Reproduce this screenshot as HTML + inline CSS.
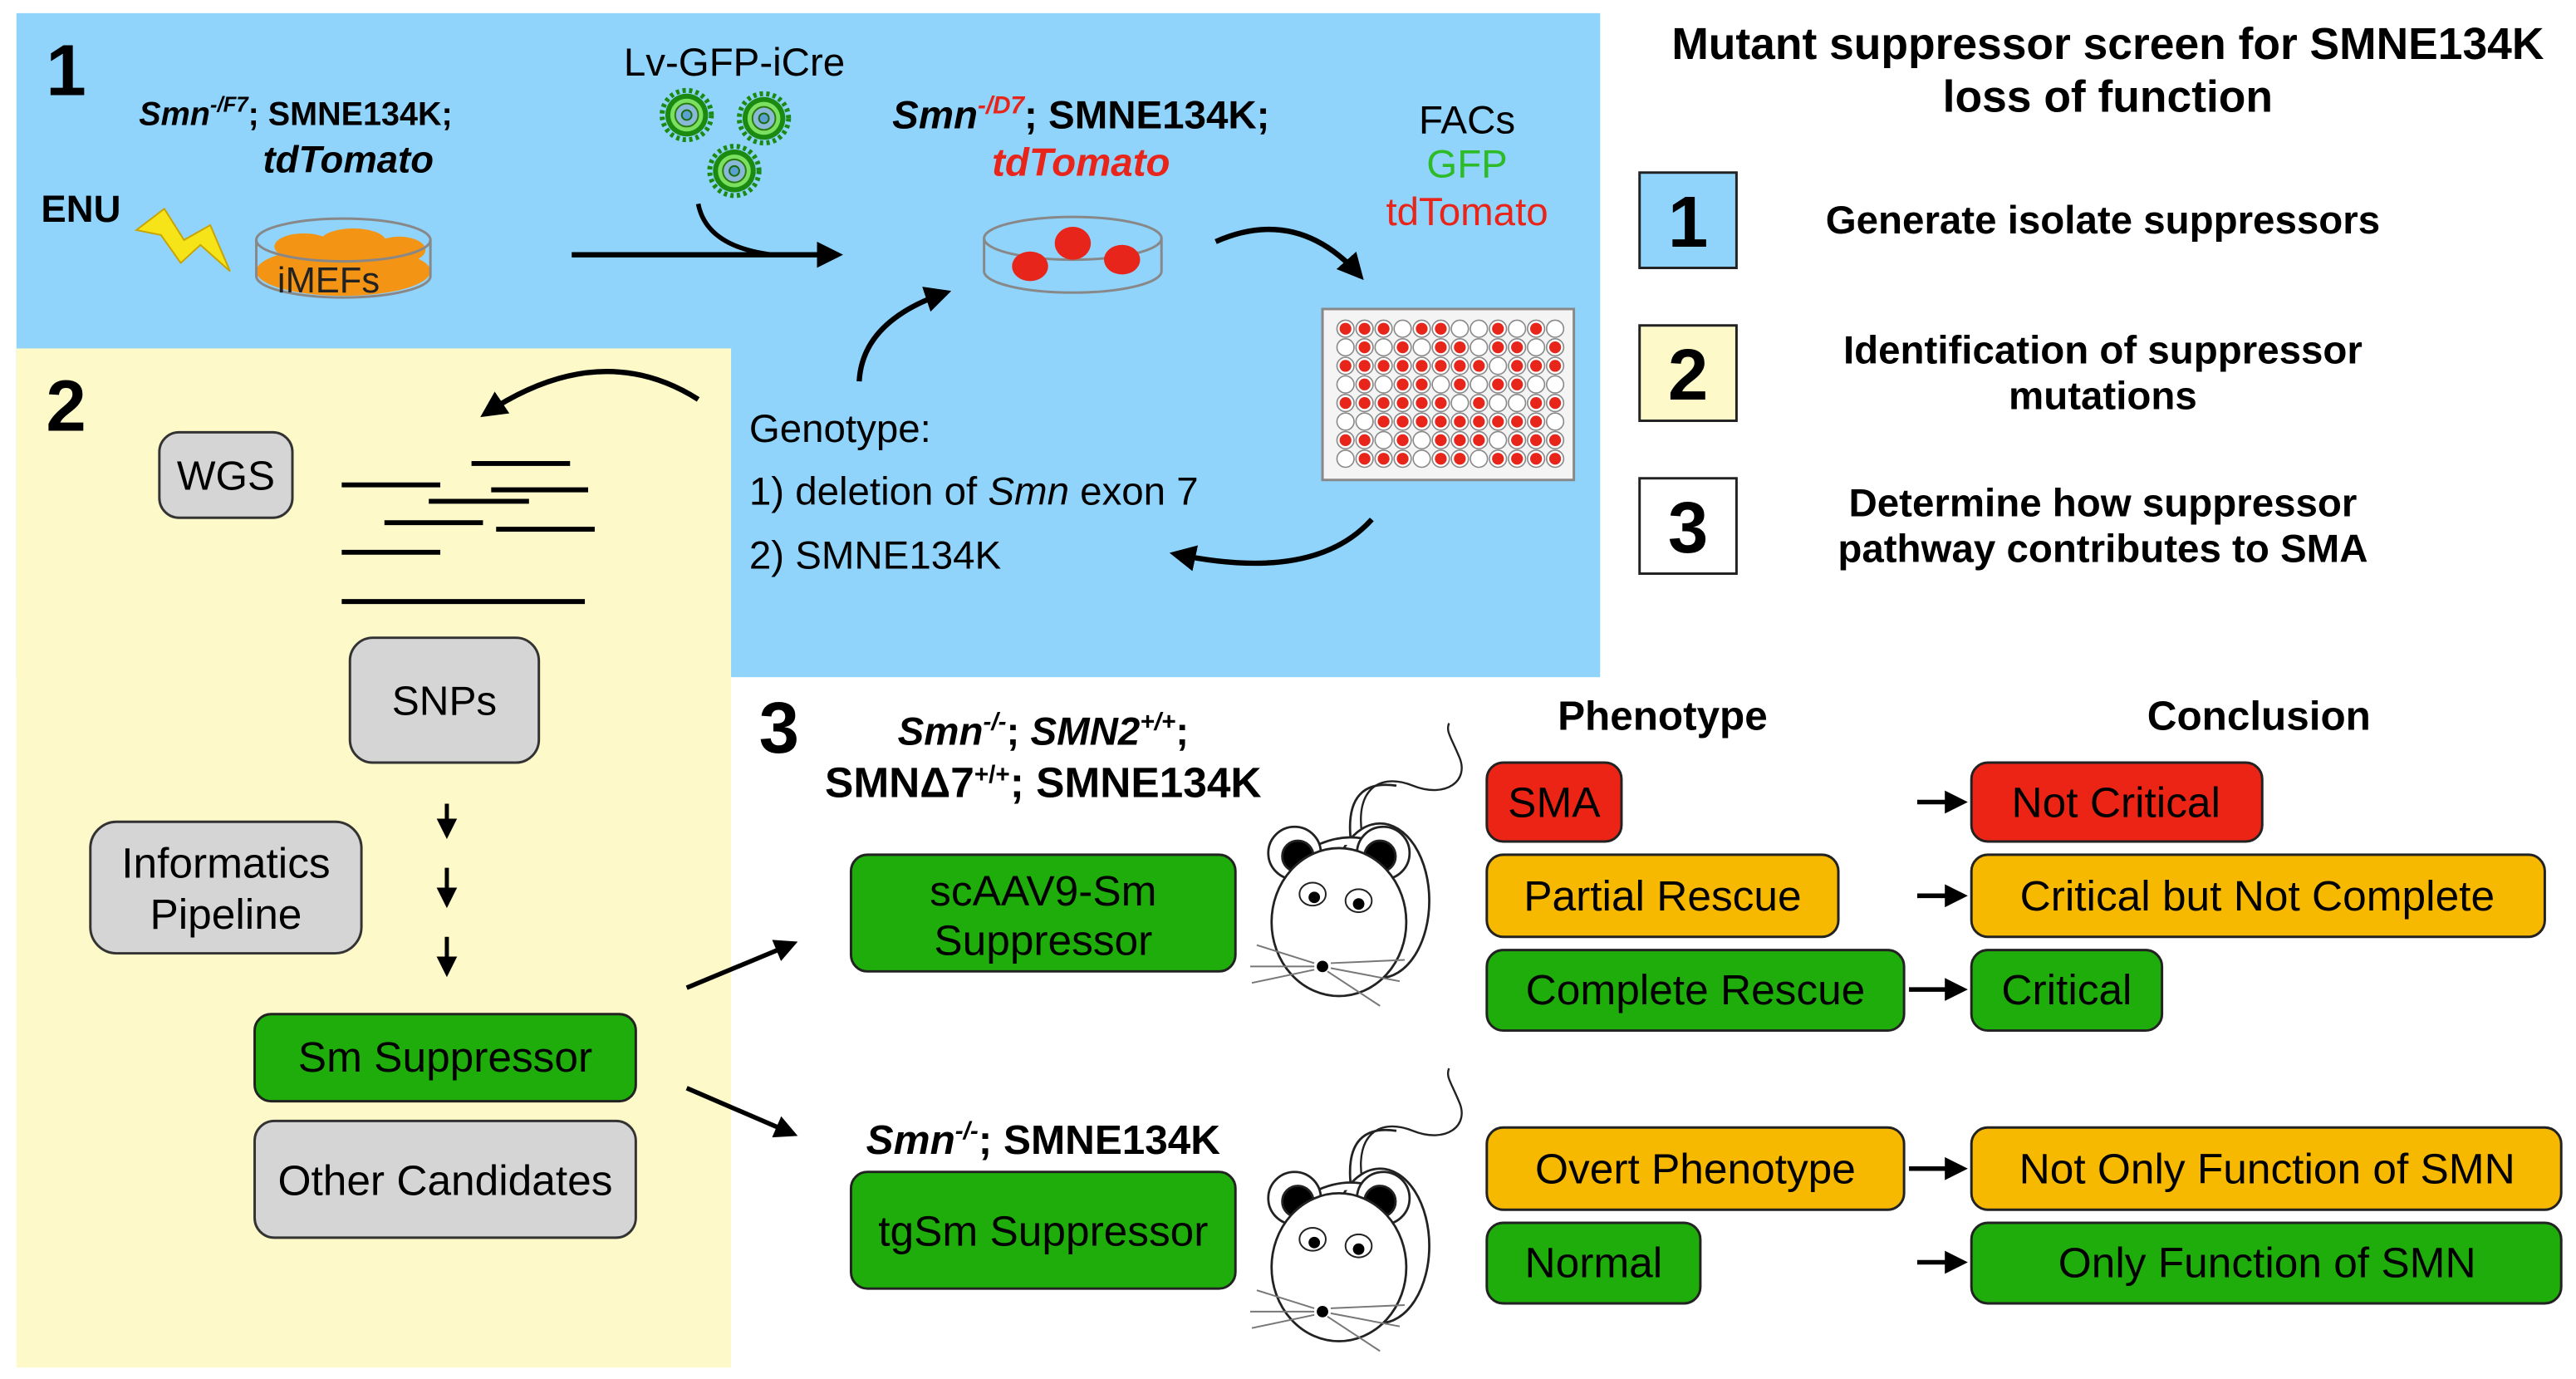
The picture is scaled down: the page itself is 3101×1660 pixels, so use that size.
<!DOCTYPE html>
<html><head><meta charset="utf-8"><style>
html,body{margin:0;padding:0;background:#fff;}
svg{display:block;}
text{font-family:"Liberation Sans",Arial,sans-serif;}
</style></head><body>
<svg width="3101" height="1660" viewBox="0 0 1568 839" preserveAspectRatio="none" xmlns="http://www.w3.org/2000/svg">
<defs>
<marker id="ah" viewBox="0 0 10 10" refX="8" refY="5" markerWidth="5" markerHeight="5" orient="auto"><path d="M0,0 L10,5 L0,10 z" fill="#000"/></marker>
<g id="virus">
<circle r="13" fill="#1a8a10"/>
<circle r="15" fill="none" stroke="#1a8a10" stroke-width="3" stroke-dasharray="2 2"/>
<circle r="10" fill="#7be060"/>
<circle r="7" fill="#8ab8d8" stroke="#2a7a10" stroke-width="1"/>
<circle r="3" fill="#5aa0d0" stroke="#1a6a10" stroke-width="1"/>
</g>
<g id="mouse" fill="none" stroke="#222" stroke-width="1.4">
<path d="M829,507 C825,480 840,470 860,478 C880,486 895,475 888,460 C883,448 880,445 882,440" stroke-width="1.2"/>
<path d="M822,509 C820,485 830,475 850,478"/>
<ellipse cx="840" cy="548" rx="30" ry="47" fill="#fff"/>
<path d="M800,515 Q820,505 840,513" fill="#fff"/>
<circle cx="788" cy="519" r="16" fill="#fff"/>
<circle cx="790" cy="521" r="9.5" fill="#000"/>
<circle cx="842" cy="519" r="16" fill="#fff"/>
<circle cx="840" cy="521" r="9.5" fill="#000"/>
<ellipse cx="815" cy="561" rx="41" ry="45" fill="#fff"/>
<ellipse cx="799" cy="544" rx="8" ry="7" fill="#fff" stroke-width="1"/>
<circle cx="800" cy="546" r="3.5" fill="#000" stroke="none"/>
<ellipse cx="827" cy="548" rx="8" ry="7" fill="#fff" stroke-width="1"/>
<circle cx="827" cy="550" r="3.5" fill="#000" stroke="none"/>
<circle cx="805" cy="588" r="3.5" fill="#000" stroke="none"/>
<g stroke="#777" stroke-width="1">
<line x1="800" y1="586" x2="765" y2="575"/><line x1="800" y1="588" x2="761" y2="588"/><line x1="800" y1="590" x2="762" y2="598"/>
<line x1="810" y1="586" x2="855" y2="584"/><line x1="810" y1="589" x2="852" y2="597"/><line x1="808" y1="591" x2="840" y2="612"/>
</g>
</g>
</defs>

<rect x="10" y="8" width="964" height="404" fill="#90d3fb"/>
<rect x="10" y="212" width="435" height="620" fill="#fdf9c8"/>

<!-- Panel 1 -->
<text x="28" y="58" font-size="44" font-weight="bold">1</text>
<text x="180" y="76" font-size="20" font-weight="bold" text-anchor="middle"><tspan font-style="italic">Smn</tspan><tspan font-style="italic" font-size="13" dy="-8">-/F7</tspan><tspan dy="8">; SMNE134K;</tspan></text>
<text x="212" y="105" font-size="23" font-weight="bold" font-style="italic" text-anchor="middle">tdTomato</text>
<text x="25" y="135" font-size="23" font-weight="bold">ENU</text>
<path d="M83,140 L100,127 L112,146 L128,137 L140,165 L122,149 L110,160 L98,143 Z" fill="#f6e318" stroke="#c9a400" stroke-width="1"/>
<ellipse cx="209" cy="165" rx="53" ry="15" fill="#f39414"/>
<ellipse cx="185" cy="150" rx="18" ry="8" fill="#f39414"/><ellipse cx="215" cy="147" rx="20" ry="8" fill="#f39414"/><ellipse cx="243" cy="152" rx="16" ry="8" fill="#f39414"/>
<ellipse cx="209" cy="146" rx="53" ry="13" fill="none" stroke="#888" stroke-width="1.5"/>
<path d="M156,146 L156,168 A53,13 0 0 0 262,168 L262,146" fill="none" stroke="#888" stroke-width="1.5"/>
<text x="200" y="178" font-size="22" text-anchor="middle" fill="#222">iMEFs</text>
<text x="447" y="46" font-size="24" text-anchor="middle">Lv-GFP-iCre</text>
<use href="#virus" x="418" y="70"/><use href="#virus" x="465" y="72"/><use href="#virus" x="447" y="104"/>
<line x1="348" y1="155" x2="510" y2="155" stroke="#000" stroke-width="3.2" marker-end="url(#ah)"/>
<path d="M425,124 Q430,150 470,155" fill="none" stroke="#000" stroke-width="2.8"/>
<text x="658" y="78" font-size="24" font-weight="bold" text-anchor="middle"><tspan font-style="italic">Smn</tspan><tspan font-style="italic" font-size="15" dy="-9" fill="#e8251a">-/D7</tspan><tspan dy="9">; SMNE134K;</tspan></text>
<text x="658" y="107" font-size="24" font-weight="bold" font-style="italic" text-anchor="middle" fill="#e8251a">tdTomato</text>
<ellipse cx="653" cy="145" rx="54" ry="13" fill="none" stroke="#888" stroke-width="1.5"/>
<path d="M599,145 L599,165 A54,13 0 0 0 707,165 L707,145" fill="none" stroke="#888" stroke-width="1.5"/>
<ellipse cx="653" cy="148" rx="11" ry="10" fill="#e8251a"/><ellipse cx="627" cy="162" rx="11" ry="9" fill="#e8251a"/><ellipse cx="683" cy="158" rx="11" ry="9" fill="#e8251a"/>
<path d="M740,147 Q790,125 828,168" fill="none" stroke="#000" stroke-width="3.2" marker-end="url(#ah)"/>
<text x="893" y="81" font-size="24" text-anchor="middle">FACs</text>
<text x="893" y="108" font-size="24" text-anchor="middle" fill="#2dbb28">GFP</text>
<text x="893" y="137" font-size="24" text-anchor="middle" fill="#e8251a">tdTomato</text>
<rect x="805" y="188" width="153" height="104" fill="#f4f4f4" stroke="#888" stroke-width="1.5"/>
<path d="M835,316 Q800,355 715,337" fill="none" stroke="#000" stroke-width="3.2" marker-end="url(#ah)"/>
<path d="M523,232 Q525,195 576,178" fill="none" stroke="#000" stroke-width="3.2" marker-end="url(#ah)"/>
<text x="456" y="269" font-size="24">Genotype:</text>
<text x="456" y="307" font-size="24">1) deletion of <tspan font-style="italic">Smn</tspan> exon 7</text>
<text x="456" y="346" font-size="24">2) SMNE134K</text>

<!-- Panel 2 -->
<text x="28" y="262" font-size="44" font-weight="bold">2</text>
<path d="M425,243 Q365,205 295,252" fill="none" stroke="#000" stroke-width="3.2" marker-end="url(#ah)"/>
<rect x="97" y="263" width="81" height="52" rx="12" fill="#d5d5d5" stroke="#333" stroke-width="1.5"/>
<text x="137.5" y="298" font-size="25" text-anchor="middle">WGS</text>
<g stroke="#000" stroke-width="3">
<line x1="287" y1="282" x2="347" y2="282"/>
<line x1="208" y1="295" x2="268" y2="295"/><line x1="299" y1="298" x2="358" y2="298"/>
<line x1="261" y1="305" x2="322" y2="305"/>
<line x1="234" y1="318" x2="294" y2="318"/><line x1="302" y1="322" x2="362" y2="322"/>
<line x1="208" y1="336" x2="268" y2="336"/>
<line x1="208" y1="366" x2="356" y2="366"/>
</g>
<rect x="213" y="388" width="115" height="76" rx="14" fill="#d5d5d5" stroke="#333" stroke-width="1.5"/>
<text x="270.5" y="435" font-size="25" text-anchor="middle">SNPs</text>
<g stroke="#000" stroke-width="2.5">
<line x1="272" y1="489" x2="272" y2="508" marker-end="url(#ah)"/>
<line x1="272" y1="528" x2="272" y2="550" marker-end="url(#ah)"/>
<line x1="272" y1="570" x2="272" y2="592" marker-end="url(#ah)"/>
</g>
<rect x="55" y="500" width="165" height="80" rx="16" fill="#d5d5d5" stroke="#333" stroke-width="1.5"/>
<text x="137.5" y="534" font-size="26" text-anchor="middle">Informatics</text>
<text x="137.5" y="565" font-size="26" text-anchor="middle">Pipeline</text>
<rect x="155" y="617" width="232" height="53" rx="10" fill="#1ead0a" stroke="#222" stroke-width="1.5"/>
<text x="271" y="652" font-size="26" text-anchor="middle">Sm Suppressor</text>
<rect x="155" y="682" width="232" height="71" rx="12" fill="#d5d5d5" stroke="#333" stroke-width="1.5"/>
<text x="271" y="727" font-size="26" text-anchor="middle">Other Candidates</text>
<line x1="418" y1="601" x2="483" y2="574" stroke="#000" stroke-width="2.8" marker-end="url(#ah)"/>
<line x1="418" y1="662" x2="483" y2="690" stroke="#000" stroke-width="2.8" marker-end="url(#ah)"/>

<!-- Panel 3 -->
<text x="462" y="458" font-size="44" font-weight="bold">3</text>
<text x="635" y="453" font-size="24" font-weight="bold" text-anchor="middle"><tspan font-style="italic">Smn</tspan><tspan font-style="italic" font-size="15" dy="-9">-/-</tspan><tspan dy="9">; </tspan><tspan font-style="italic">SMN2</tspan><tspan font-style="italic" font-size="15" dy="-9">+/+</tspan><tspan dy="9">;</tspan></text>
<text x="635" y="485" font-size="26" font-weight="bold" text-anchor="middle">SMNΔ7<tspan font-size="15" dy="-9">+/+</tspan><tspan dy="9">; SMNE134K</tspan></text>
<rect x="518" y="520" width="234" height="71" rx="10" fill="#1ead0a" stroke="#222" stroke-width="1.5"/>
<text x="635" y="551" font-size="26" text-anchor="middle">scAAV9-Sm</text>
<text x="635" y="581" font-size="26" text-anchor="middle">Suppressor</text>
<use href="#mouse"/>
<text x="635" y="702" font-size="25" font-weight="bold" text-anchor="middle"><tspan font-style="italic">Smn</tspan><tspan font-style="italic" font-size="15" dy="-9">-/-</tspan><tspan dy="9">; SMNE134K</tspan></text>
<rect x="518" y="713" width="234" height="71" rx="10" fill="#1ead0a" stroke="#222" stroke-width="1.5"/>
<text x="635" y="758" font-size="26" text-anchor="middle">tgSm Suppressor</text>
<use href="#mouse" y="210"/>

<text x="1012" y="444" font-size="25" font-weight="bold" text-anchor="middle">Phenotype</text>
<text x="1375" y="444" font-size="25" font-weight="bold" text-anchor="middle">Conclusion</text>
<g stroke="#222" stroke-width="1.5">
<rect x="905" y="464" width="82" height="48" rx="10" fill="#ec2415"/>
<rect x="1200" y="464" width="177" height="48" rx="10" fill="#ec2415"/>
<rect x="905" y="520" width="214" height="50" rx="10" fill="#f7b800"/>
<rect x="1200" y="520" width="349" height="50" rx="10" fill="#f7b800"/>
<rect x="905" y="578" width="254" height="49" rx="10" fill="#1ead0a"/>
<rect x="1200" y="578" width="116" height="49" rx="10" fill="#1ead0a"/>
<rect x="905" y="686" width="254" height="50" rx="10" fill="#f7b800"/>
<rect x="1200" y="686" width="359" height="50" rx="10" fill="#f7b800"/>
<rect x="905" y="744" width="130" height="49" rx="10" fill="#1ead0a"/>
<rect x="1200" y="744" width="359" height="49" rx="10" fill="#1ead0a"/>
</g>
<g font-size="26">
<text x="946" y="497" text-anchor="middle">SMA</text>
<text x="1288" y="497" text-anchor="middle">Not Critical</text>
<text x="1012" y="554" text-anchor="middle">Partial Rescue</text>
<text x="1374" y="554" text-anchor="middle">Critical but Not Complete</text>
<text x="1032" y="611" text-anchor="middle">Complete Rescue</text>
<text x="1258" y="611" text-anchor="middle">Critical</text>
<text x="1032" y="720" text-anchor="middle">Overt Phenotype</text>
<text x="1380" y="720" text-anchor="middle">Not Only Function of SMN</text>
<text x="970" y="777" text-anchor="middle">Normal</text>
<text x="1380" y="777" text-anchor="middle">Only Function of SMN</text>
</g>
<g stroke="#000" stroke-width="2.8">
<line x1="1167" y1="488" x2="1195" y2="488" marker-end="url(#ah)"/>
<line x1="1167" y1="545" x2="1195" y2="545" marker-end="url(#ah)"/>
<line x1="1162" y1="602" x2="1195" y2="602" marker-end="url(#ah)"/>
<line x1="1162" y1="711" x2="1195" y2="711" marker-end="url(#ah)"/>
<line x1="1167" y1="768" x2="1195" y2="768" marker-end="url(#ah)"/>
</g>

<!-- Legend -->
<text x="1283" y="36" font-size="27" font-weight="bold" text-anchor="middle">Mutant suppressor screen for SMNE134K</text>
<text x="1283" y="68" font-size="27" font-weight="bold" text-anchor="middle">loss of function</text>
<rect x="998" y="105" width="59" height="58" fill="#90d3fb" stroke="#222" stroke-width="1.5"/>
<text x="1027.5" y="150" font-size="44" font-weight="bold" text-anchor="middle">1</text>
<rect x="998" y="198" width="59" height="58" fill="#fdf9c8" stroke="#222" stroke-width="1.5"/>
<text x="1027.5" y="243" font-size="44" font-weight="bold" text-anchor="middle">2</text>
<rect x="998" y="291" width="59" height="58" fill="#fff" stroke="#222" stroke-width="1.5"/>
<text x="1027.5" y="336" font-size="44" font-weight="bold" text-anchor="middle">3</text>
<g font-size="24" font-weight="bold" text-anchor="middle">
<text x="1280" y="142">Generate isolate suppressors</text>
<text x="1280" y="221">Identification of suppressor</text>
<text x="1280" y="249">mutations</text>
<text x="1280" y="314">Determine how suppressor</text>
<text x="1280" y="342">pathway contributes to SMA</text>
</g>

<!-- plate wells -->
<g stroke="#888" stroke-width="0.8" fill="#fff">
<circle cx="819" cy="200" r="5.2"/><circle cx="830.6" cy="200" r="5.2"/><circle cx="842.2" cy="200" r="5.2"/><circle cx="853.8" cy="200" r="5.2"/><circle cx="865.4" cy="200" r="5.2"/><circle cx="877" cy="200" r="5.2"/><circle cx="888.6" cy="200" r="5.2"/><circle cx="900.2" cy="200" r="5.2"/><circle cx="911.8" cy="200" r="5.2"/><circle cx="923.4" cy="200" r="5.2"/><circle cx="935" cy="200" r="5.2"/><circle cx="946.6" cy="200" r="5.2"/>
<circle cx="819" cy="211.3" r="5.2"/><circle cx="830.6" cy="211.3" r="5.2"/><circle cx="842.2" cy="211.3" r="5.2"/><circle cx="853.8" cy="211.3" r="5.2"/><circle cx="865.4" cy="211.3" r="5.2"/><circle cx="877" cy="211.3" r="5.2"/><circle cx="888.6" cy="211.3" r="5.2"/><circle cx="900.2" cy="211.3" r="5.2"/><circle cx="911.8" cy="211.3" r="5.2"/><circle cx="923.4" cy="211.3" r="5.2"/><circle cx="935" cy="211.3" r="5.2"/><circle cx="946.6" cy="211.3" r="5.2"/>
<circle cx="819" cy="222.6" r="5.2"/><circle cx="830.6" cy="222.6" r="5.2"/><circle cx="842.2" cy="222.6" r="5.2"/><circle cx="853.8" cy="222.6" r="5.2"/><circle cx="865.4" cy="222.6" r="5.2"/><circle cx="877" cy="222.6" r="5.2"/><circle cx="888.6" cy="222.6" r="5.2"/><circle cx="900.2" cy="222.6" r="5.2"/><circle cx="911.8" cy="222.6" r="5.2"/><circle cx="923.4" cy="222.6" r="5.2"/><circle cx="935" cy="222.6" r="5.2"/><circle cx="946.6" cy="222.6" r="5.2"/>
<circle cx="819" cy="233.9" r="5.2"/><circle cx="830.6" cy="233.9" r="5.2"/><circle cx="842.2" cy="233.9" r="5.2"/><circle cx="853.8" cy="233.9" r="5.2"/><circle cx="865.4" cy="233.9" r="5.2"/><circle cx="877" cy="233.9" r="5.2"/><circle cx="888.6" cy="233.9" r="5.2"/><circle cx="900.2" cy="233.9" r="5.2"/><circle cx="911.8" cy="233.9" r="5.2"/><circle cx="923.4" cy="233.9" r="5.2"/><circle cx="935" cy="233.9" r="5.2"/><circle cx="946.6" cy="233.9" r="5.2"/>
<circle cx="819" cy="245.2" r="5.2"/><circle cx="830.6" cy="245.2" r="5.2"/><circle cx="842.2" cy="245.2" r="5.2"/><circle cx="853.8" cy="245.2" r="5.2"/><circle cx="865.4" cy="245.2" r="5.2"/><circle cx="877" cy="245.2" r="5.2"/><circle cx="888.6" cy="245.2" r="5.2"/><circle cx="900.2" cy="245.2" r="5.2"/><circle cx="911.8" cy="245.2" r="5.2"/><circle cx="923.4" cy="245.2" r="5.2"/><circle cx="935" cy="245.2" r="5.2"/><circle cx="946.6" cy="245.2" r="5.2"/>
<circle cx="819" cy="256.5" r="5.2"/><circle cx="830.6" cy="256.5" r="5.2"/><circle cx="842.2" cy="256.5" r="5.2"/><circle cx="853.8" cy="256.5" r="5.2"/><circle cx="865.4" cy="256.5" r="5.2"/><circle cx="877" cy="256.5" r="5.2"/><circle cx="888.6" cy="256.5" r="5.2"/><circle cx="900.2" cy="256.5" r="5.2"/><circle cx="911.8" cy="256.5" r="5.2"/><circle cx="923.4" cy="256.5" r="5.2"/><circle cx="935" cy="256.5" r="5.2"/><circle cx="946.6" cy="256.5" r="5.2"/>
<circle cx="819" cy="267.8" r="5.2"/><circle cx="830.6" cy="267.8" r="5.2"/><circle cx="842.2" cy="267.8" r="5.2"/><circle cx="853.8" cy="267.8" r="5.2"/><circle cx="865.4" cy="267.8" r="5.2"/><circle cx="877" cy="267.8" r="5.2"/><circle cx="888.6" cy="267.8" r="5.2"/><circle cx="900.2" cy="267.8" r="5.2"/><circle cx="911.8" cy="267.8" r="5.2"/><circle cx="923.4" cy="267.8" r="5.2"/><circle cx="935" cy="267.8" r="5.2"/><circle cx="946.6" cy="267.8" r="5.2"/>
<circle cx="819" cy="279.1" r="5.2"/><circle cx="830.6" cy="279.1" r="5.2"/><circle cx="842.2" cy="279.1" r="5.2"/><circle cx="853.8" cy="279.1" r="5.2"/><circle cx="865.4" cy="279.1" r="5.2"/><circle cx="877" cy="279.1" r="5.2"/><circle cx="888.6" cy="279.1" r="5.2"/><circle cx="900.2" cy="279.1" r="5.2"/><circle cx="911.8" cy="279.1" r="5.2"/><circle cx="923.4" cy="279.1" r="5.2"/><circle cx="935" cy="279.1" r="5.2"/><circle cx="946.6" cy="279.1" r="5.2"/>
</g>
<g fill="#e8251a">
<circle cx="819" cy="200" r="3.6"/><circle cx="830.6" cy="200" r="3.6"/><circle cx="842.2" cy="200" r="3.6"/><circle cx="865.4" cy="200" r="3.6"/><circle cx="877" cy="200" r="3.6"/><circle cx="911.8" cy="200" r="3.6"/><circle cx="935" cy="200" r="3.6"/>
<circle cx="830.6" cy="211.3" r="3.6"/><circle cx="853.8" cy="211.3" r="3.6"/><circle cx="877" cy="211.3" r="3.6"/><circle cx="888.6" cy="211.3" r="3.6"/><circle cx="911.8" cy="211.3" r="3.6"/><circle cx="923.4" cy="211.3" r="3.6"/><circle cx="946.6" cy="211.3" r="3.6"/>
<circle cx="819" cy="222.6" r="3.6"/><circle cx="830.6" cy="222.6" r="3.6"/><circle cx="842.2" cy="222.6" r="3.6"/><circle cx="853.8" cy="222.6" r="3.6"/><circle cx="865.4" cy="222.6" r="3.6"/><circle cx="877" cy="222.6" r="3.6"/><circle cx="888.6" cy="222.6" r="3.6"/><circle cx="900.2" cy="222.6" r="3.6"/><circle cx="923.4" cy="222.6" r="3.6"/><circle cx="935" cy="222.6" r="3.6"/><circle cx="946.6" cy="222.6" r="3.6"/>
<circle cx="830.6" cy="233.9" r="3.6"/><circle cx="853.8" cy="233.9" r="3.6"/><circle cx="865.4" cy="233.9" r="3.6"/><circle cx="888.6" cy="233.9" r="3.6"/><circle cx="911.8" cy="233.9" r="3.6"/><circle cx="923.4" cy="233.9" r="3.6"/>
<circle cx="819" cy="245.2" r="3.6"/><circle cx="830.6" cy="245.2" r="3.6"/><circle cx="842.2" cy="245.2" r="3.6"/><circle cx="853.8" cy="245.2" r="3.6"/><circle cx="865.4" cy="245.2" r="3.6"/><circle cx="877" cy="245.2" r="3.6"/><circle cx="900.2" cy="245.2" r="3.6"/><circle cx="935" cy="245.2" r="3.6"/><circle cx="946.6" cy="245.2" r="3.6"/>
<circle cx="842.2" cy="256.5" r="3.6"/><circle cx="853.8" cy="256.5" r="3.6"/><circle cx="865.4" cy="256.5" r="3.6"/><circle cx="877" cy="256.5" r="3.6"/><circle cx="888.6" cy="256.5" r="3.6"/><circle cx="900.2" cy="256.5" r="3.6"/><circle cx="911.8" cy="256.5" r="3.6"/><circle cx="923.4" cy="256.5" r="3.6"/><circle cx="935" cy="256.5" r="3.6"/>
<circle cx="819" cy="267.8" r="3.6"/><circle cx="830.6" cy="267.8" r="3.6"/><circle cx="853.8" cy="267.8" r="3.6"/><circle cx="877" cy="267.8" r="3.6"/><circle cx="888.6" cy="267.8" r="3.6"/><circle cx="900.2" cy="267.8" r="3.6"/><circle cx="923.4" cy="267.8" r="3.6"/><circle cx="935" cy="267.8" r="3.6"/><circle cx="946.6" cy="267.8" r="3.6"/>
<circle cx="830.6" cy="279.1" r="3.6"/><circle cx="842.2" cy="279.1" r="3.6"/><circle cx="853.8" cy="279.1" r="3.6"/><circle cx="877" cy="279.1" r="3.6"/><circle cx="888.6" cy="279.1" r="3.6"/><circle cx="911.8" cy="279.1" r="3.6"/><circle cx="923.4" cy="279.1" r="3.6"/><circle cx="935" cy="279.1" r="3.6"/><circle cx="946.6" cy="279.1" r="3.6"/>
</g>
</svg>
</body></html>
